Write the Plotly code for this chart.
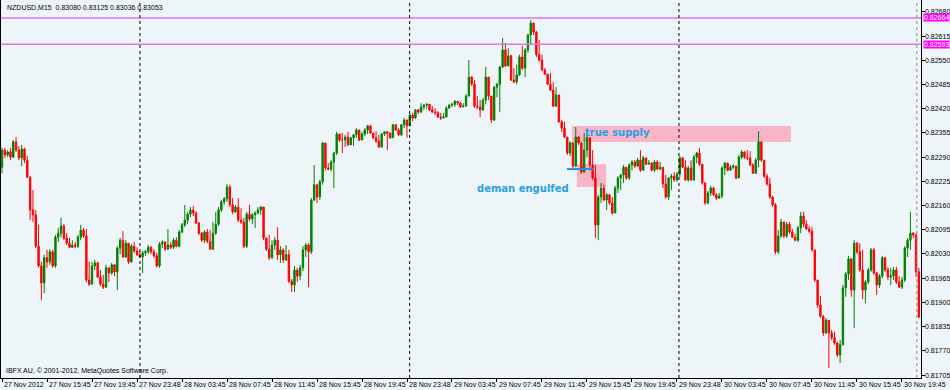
import plotly.graph_objects as go

# ---------------- data (prices in points, 1 point = 0.00001) ----------------
first_open_pts = 82263

close_pts = [
82309,82296,82304,82290,82331,82309,82288,82312,82282,82236,82148,82135,82051,81998,81952,82020,
82009,82036,81998,82075,82086,82105,82073,82059,82048,82054,82051,82075,82094,82078,81960,81949,
81998,82006,81968,81949,81941,81993,81979,82001,81982,82046,82067,82022,82059,82009,82051,82038,
82028,82022,82033,82036,82048,82036,82025,81998,82057,82062,82043,82054,82048,82067,82051,82089,
82108,82121,82137,82148,82140,82113,82086,82067,82089,82064,82043,82086,82110,82148,82170,82178,
82210,82162,82143,82156,82121,82116,82051,82137,82124,82135,82140,82148,82156,82073,82043,82020,
82054,82067,82028,82041,82014,82028,81957,81947,81987,81971,81993,82041,82054,82036,82175,82216,
82183,82224,82328,82261,82258,82277,82301,82352,82336,82336,82344,82323,82342,82350,82363,82336,
82352,82363,82374,82355,82342,82333,82317,82352,82358,82355,82342,82377,82363,82350,82377,82390,
82374,82403,82395,82417,82411,82425,82430,82432,82417,82411,82409,82398,82395,82398,82422,82430,
82432,82440,82435,82425,82427,82454,82505,82486,82427,82425,82417,82443,82505,82454,82390,82478,
82486,82532,82578,82535,82562,82497,82492,82511,82559,82529,82578,82618,82650,82626,82565,82551,
82524,82513,82486,82470,82427,82457,82385,82368,82344,82301,82328,82266,82344,82328,82250,82309,
82342,82269,82234,82108,82183,82207,82175,82189,82167,82140,82207,82234,82242,82263,82234,82269,
82277,82266,82282,82255,82288,82271,82274,82255,82277,82258,82263,82218,82183,82234,82239,82229,
82245,82288,82263,82229,82261,82229,82290,82301,82271,82221,82167,82194,82207,82189,82180,82186,
82261,82274,82255,82263,82266,82234,82290,82304,82290,82288,82269,82247,82282,82331,82282,82239,
82218,82183,82162,82036,82078,82116,82078,82110,82089,82075,82067,82100,82132,82110,82097,82091,
82041,81960,81893,81863,81818,81852,81818,81805,81791,81759,81786,81939,81976,82017,81933,82059,
82036,81987,81933,81955,81987,82041,81979,81947,81971,82020,81987,81968,81971,81987,81955,81941,
81960,82046,82067,82086,82081,81982,81861,
]

high_pts = [
82315,82315,82309,82315,82336,82344,82320,82323,82315,82293,82239,82202,82148,82108,82009,82028,
82041,82043,82041,82081,82100,82127,82110,82086,82073,82067,82062,82081,82108,82100,82097,82009,
82009,82014,82009,81987,81974,82001,81987,82006,82003,82051,82073,82091,82067,82057,82057,82062,
82048,82038,82038,82041,82054,82051,82043,82033,82062,82067,82064,82097,82062,82073,82075,82094,
82113,82162,82143,82156,82159,82145,82116,82089,82094,82097,82094,82116,82143,82156,82175,82183,
82218,82216,82180,82162,82180,82153,82127,82143,82162,82140,82145,82156,82159,82156,82073,82081,
82067,82075,82102,82051,82046,82054,82041,81963,81998,81993,82001,82051,82059,82059,82180,82269,
82216,82229,82331,82323,82274,82282,82304,82358,82352,82355,82350,82358,82344,82352,82368,82363,
82358,82368,82377,82377,82355,82360,82350,82355,82360,82360,82355,82379,82377,82368,82379,82395,
82390,82406,82409,82419,82419,82435,82432,82435,82432,82427,82422,82414,82409,82409,82427,82432,
82435,82443,82438,82438,82435,82459,82551,82508,82497,82454,82443,82449,82532,82497,82454,82481,
82489,82535,82610,82597,82583,82565,82529,82538,82565,82589,82583,82621,82658,82645,82629,82605,
82565,82529,82511,82516,82492,82478,82457,82390,82385,82344,82333,82331,82371,82347,82331,82355,
82363,82336,82309,82269,82189,82221,82216,82194,82191,82183,82213,82239,82245,82269,82263,82274,
82282,82282,82288,82309,82293,82288,82282,82277,82282,82282,82277,82261,82242,82236,82245,82250,
82250,82293,82290,82282,82266,82282,82296,82304,82315,82263,82221,82199,82213,82210,82194,82194,
82266,82277,82274,82269,82271,82266,82296,82309,82306,82309,82306,82274,82288,82360,82331,82282,
82245,82234,82186,82167,82094,82124,82116,82116,82116,82097,82084,82105,82143,82143,82121,82105,
82102,82041,81960,81917,81866,81858,81852,81826,81821,81794,81799,81947,81982,82025,82017,82067,
82062,82059,82041,81960,81993,82046,82046,81982,81976,82025,82022,81995,81993,81995,81995,81971,
81968,82051,82073,82143,82089,82086,81993,
]

low_pts = [
82247,82288,82290,82282,82288,82304,82282,82266,82274,82234,82121,82116,82046,81993,81906,81925,
81993,82001,81993,81993,82062,82075,82067,82054,82046,82046,82046,82046,82067,82073,81955,81944,
81949,81987,81965,81944,81936,81939,81955,81974,81971,81933,82030,82020,82020,82003,82006,82033,
82025,82020,81979,82025,82030,82030,82020,81993,81993,82046,82038,82041,82043,82043,82048,82048,
82086,82102,82110,82129,82132,82110,82081,82062,82059,82059,82041,82041,82081,82105,82143,82162,
82170,82156,82137,82140,82116,82110,82046,82046,82118,82110,82100,82137,82135,82067,82038,82014,
82017,82041,82014,82006,82006,82011,81952,81928,81928,81955,81960,81984,82022,81941,82030,82172,
82167,82175,82216,82255,82255,82252,82207,82296,82331,82301,82317,82320,82323,82320,82342,82333,
82336,82347,82352,82352,82339,82328,82315,82317,82347,82309,82339,82344,82360,82347,82347,82368,
82342,82374,82387,82392,82406,82409,82417,82419,82414,82409,82403,82395,82390,82395,82398,82419,
82425,82425,82430,82422,82425,82427,82454,82481,82422,82419,82398,82414,82432,82443,82382,82387,
82451,82411,82529,82532,82546,82494,82489,82486,82508,82524,82505,82570,82592,82618,82559,82546,
82521,82511,82484,82467,82425,82427,82382,82358,82342,82296,82293,82261,82263,82323,82245,82250,
82290,82261,82229,82073,82067,82167,82172,82148,82162,82135,82140,82194,82202,82221,82229,82229,
82255,82261,82263,82250,82255,82269,82271,82252,82250,82255,82255,82207,82178,82175,82202,82224,
82224,82236,82261,82226,82224,82226,82226,82274,82266,82216,82162,82164,82186,82186,82175,82178,
82180,82242,82252,82255,82258,82231,82234,82285,82285,82282,82266,82245,82245,82263,82277,82234,
82213,82178,82156,82030,82030,82073,82073,82073,82084,82073,82064,82062,82086,82102,82094,82086,
82036,81955,81885,81858,81810,81815,81724,81799,81786,81753,81737,81794,81915,81960,81915,81831,
82030,81982,81909,81898,81949,81982,81974,81920,81939,81965,81982,81960,81947,81960,81949,81939,
81936,81955,82022,82041,82073,81968,81858,
]

x_tick_bars = [0, 16, 32, 48, 64, 80, 96, 112, 128, 144, 160, 176, 192, 208, 224, 240, 256, 272, 288, 304, 320]
x_tick_labels = ["27 Nov 2012", "27 Nov 15:45", "27 Nov 19:45", "27 Nov 23:48", "28 Nov 03:45",
                 "28 Nov 07:45", "28 Nov 11:45", "28 Nov 15:45", "28 Nov 19:45", "28 Nov 23:48",
                 "29 Nov 03:45", "29 Nov 07:45", "29 Nov 11:45", "29 Nov 15:45", "29 Nov 19:45",
                 "29 Nov 23:48", "30 Nov 03:45", "30 Nov 07:45", "30 Nov 11:45", "30 Nov 15:45",
                 "30 Nov 19:45"]
y_tick_values = [0.81705, 0.81770, 0.81835, 0.81900, 0.81965, 0.82030, 0.82095, 0.82160,
                 0.82225, 0.82290, 0.82355, 0.82420, 0.82485, 0.82550, 0.82615, 0.82680]
hline_levels = [0.82664, 0.82593]
day_separators = [49.05, 144.95, 240.7]
supply_zone = dict(x0=202.7, x1=280.5, low=0.82331, high=0.82374)
demand_zone = dict(x0=204.4, x1=214.8, low=0.82210, high=0.82271)
demand_line = dict(x0=200.9, x1=210.5, level=0.82258)

# ---------------- build ----------------
n = len(close_pts)
open_pts = [first_open_pts] + close_pts[:-1]
o = [v / 1e5 for v in open_pts]
c = [v / 1e5 for v in close_pts]
h = [max(a, b, d) / 1e5 for a, b, d in zip(high_pts, open_pts, close_pts)]
lo = [min(a, b, d) / 1e5 for a, b, d in zip(low_pts, open_pts, close_pts)]
xs = list(range(n))

BG = "#eef5f9"
FAM = "Liberation Sans, Arial, sans-serif"
AXF = dict(family=FAM, size=7, color="black")
BLUE = "#2a9fe4"

fig = go.Figure()
fig.add_trace(go.Candlestick(
    x=xs, open=o, high=h, low=lo, close=c,
    increasing=dict(line=dict(color="#008000", width=1), fillcolor="#008000"),
    decreasing=dict(line=dict(color="#ff0000", width=1), fillcolor="#ff0000"),
    whiskerwidth=0, showlegend=False, hoverinfo="skip",
))

shapes = []
for z in (supply_zone, demand_zone):
    shapes.append(dict(type="rect", xref="x", yref="y", x0=z["x0"], x1=z["x1"],
                       y0=z["low"], y1=z["high"], fillcolor="#fab6c6",
                       line=dict(width=0), layer="below"))
for lv in hline_levels:
    shapes.append(dict(type="line", xref="paper", yref="y", x0=0, x1=1, y0=lv, y1=lv,
                       line=dict(color="#e672e6", width=1.5), layer="above"))
for sx in day_separators:
    shapes.append(dict(type="line", xref="x", yref="paper", x0=sx, x1=sx, y0=0, y1=1,
                       line=dict(color="black", width=1, dash="dot"), layer="above"))
shapes.append(dict(type="line", xref="paper", yref="paper", x0=0.9955, x1=0.9955, y0=0, y1=1,
                   line=dict(color="#8a8a8a", width=1, dash="dot"), layer="above"))
shapes.append(dict(type="line", xref="x", yref="y", x0=demand_line["x0"], x1=demand_line["x1"],
                   y0=demand_line["level"], y1=demand_line["level"],
                   line=dict(color="#1f8fe0", width=2), layer="above"))

annotations = []
for xb, lab in zip(x_tick_bars, x_tick_labels):
    annotations.append(dict(x=xb, y=0, xref="x", yref="paper", xanchor="left", yanchor="top",
                            text=lab, showarrow=False, font=AXF, xshift=0, yshift=-1))
for yv in y_tick_values:
    annotations.append(dict(x=1, y=yv, xref="paper", yref="y", xanchor="left", yanchor="middle",
                            text=f"{yv:.5f}", showarrow=False, font=AXF, xshift=3,
                            borderpad=0))
for lv in hline_levels:
    annotations.append(dict(x=1, y=lv, xref="paper", yref="y", xanchor="left", yanchor="middle",
                            text=f"{lv:.5f}", showarrow=False, bgcolor="#ff00ff", borderpad=0,
                            font=dict(family=FAM, size=7, color="white"), xshift=2))
annotations.append(dict(x=0, y=1, xref="paper", yref="paper", xanchor="left", yanchor="top",
                        text="NZDUSD,M15  0.83080 0.83125 0.83036 0.83053", showarrow=False,
                        font=AXF, xshift=4, yshift=-2))
annotations.append(dict(x=0, y=0, xref="paper", yref="paper", xanchor="left", yanchor="bottom",
                        text="IBFX AU, © 2001-2012, MetaQuotes Software Corp.", showarrow=False,
                        font=AXF, xshift=3, yshift=1))
annotations.append(dict(x=218.7, y=0.82355, xref="x", yref="y", text="<b>true supply</b>",
                        showarrow=False, font=dict(family="DejaVu Sans", size=10, color=BLUE)))
annotations.append(dict(x=185.3, y=0.82207, xref="x", yref="y", text="<b>deman engulfed</b>",
                        showarrow=False, font=dict(family="DejaVu Sans", size=10, color=BLUE)))

fig.update_layout(
    template="none",
    width=950, height=390,
    margin=dict(l=1, r=29, t=0, b=12, pad=0),
    paper_bgcolor=BG, plot_bgcolor=BG,
    showlegend=False,
    shapes=shapes, annotations=annotations,
    xaxis=dict(range=[-0.356, 326.76], rangeslider=dict(visible=False), showgrid=False,
               zeroline=False, showline=True, linecolor="black", linewidth=1,
               tickmode="array", tickvals=x_tick_bars, ticktext=[""] * len(x_tick_bars),
               ticks="outside", ticklen=3, tickcolor="black", automargin=False),
    yaxis=dict(side="right", range=[0.81697, 0.82712], showgrid=False, zeroline=False,
               showline=True, mirror=True, linecolor="black", linewidth=1,
               tickmode="array", tickvals=y_tick_values, showticklabels=False,
               ticks="outside", ticklen=3, tickcolor="black", automargin=False),
)

fig.write_html("out.html")
